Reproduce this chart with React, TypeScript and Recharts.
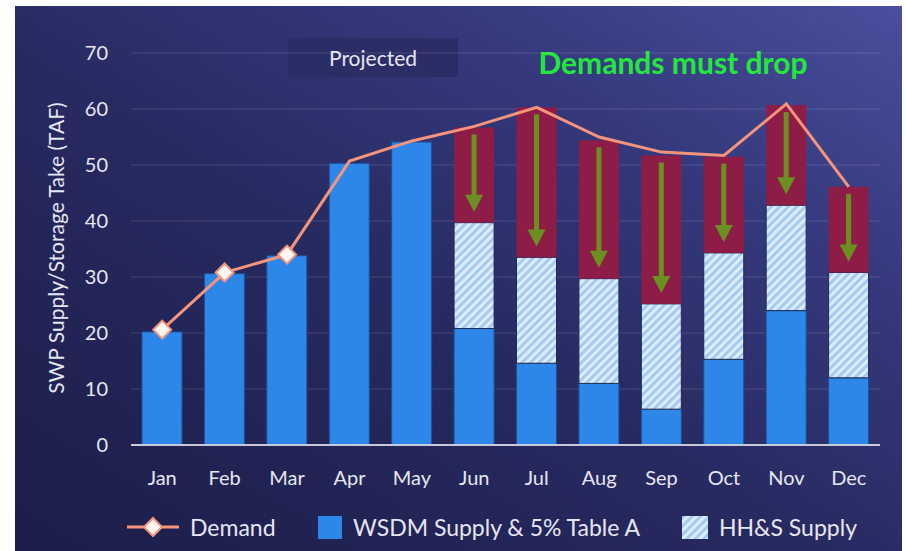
import { ComposedChart, Bar, Line, XAxis, YAxis, CartesianGrid } from 'recharts';

const months = ['Jan', 'Feb', 'Mar', 'Apr', 'May', 'Jun', 'Jul', 'Aug', 'Sep', 'Oct', 'Nov', 'Dec'];
const wsdmSupply = [20.2, 30.6, 33.8, 50.3, 54.1, 20.8, 14.6, 11.0, 6.4, 15.3, 24.0, 12.0];
const hhsSupply = [null, null, null, null, null, 18.9, 18.9, 18.7, 18.8, 19.0, 18.8, 18.8];
const shortfall = [null, null, null, null, null, 17.0, 26.8, 24.7, 26.5, 17.2, 17.9, 15.3];
const demand = [20.6, 30.8, 34.0, 50.7, 54.3, 56.9, 60.3, 55.0, 52.3, 51.7, 60.9, 46.1];
const yTicks = [0, 10, 20, 30, 40, 50, 60, 70];

const data = months.map((month, i) => ({
  month,
  wsdm: wsdmSupply[i],
  hhs: hhsSupply[i],
  gap: shortfall[i],
  demand: demand[i],
}));

const FONT = 'Lato, "Open Sans", sans-serif';
const TEXT = '#e6e6f2';
const BLUE = '#2d87e8';
const RED = '#8d1c47';
const ARROW = '#6b9020';
const LINE = '#f4947c';

// red "must drop" block with the green arrow inside
function GapShape(props: any) {
  const { x, y, width, height } = props;
  if (!height || height <= 0) return null;
  const cx = x + width / 2;
  const top = y + 7;
  const tip = y + height - 11;
  const head = 17;
  return (
    <g>
      <rect x={x} y={y} width={width} height={height} fill={RED} />
      <rect x={cx - 2.5} y={top} width={5} height={tip - head - top + 1} fill={ARROW} />
      <path d={`M${cx - 9},${tip - head} L${cx + 9},${tip - head} L${cx},${tip} Z`} fill={ARROW} />
    </g>
  );
}

function DemandDot(props: any) {
  const { cx, cy, index } = props;
  if (index > 2 || cx == null) return <g key={index} />;
  const r = 9;
  return (
    <path
      key={index}
      d={`M${cx},${cy - r} L${cx + r},${cy} L${cx},${cy + r} L${cx - r},${cy} Z`}
      fill="#fff6f2"
      stroke={LINE}
      strokeWidth={2}
    />
  );
}

function LegendItem({ icon, label }: { icon: React.ReactNode; label: string }) {
  return (
    <div style={{ display: 'flex', alignItems: 'center', gap: 11 }}>
      {icon}
      <span>{label}</span>
    </div>
  );
}

export default function App() {
  return (
    <div style={{ position: 'absolute', left: 0, top: 0, width: 906, height: 551, background: '#fff', fontFamily: FONT }}>
      <div
        style={{
          position: 'absolute',
          left: 15,
          top: 6,
          width: 887,
          height: 545,
          background: 'linear-gradient(to top right, #1c1d49 0%, #272a60 45%, #363a7e 75%, #4a4f9e 100%)',
        }}
      />
      {/* Projected box */}
      <div
        style={{
          position: 'absolute',
          left: 288,
          top: 38,
          width: 170,
          height: 39,
          background: '#2b2e66',
          color: TEXT,
          fontSize: 21,
          display: 'flex',
          alignItems: 'center',
          justifyContent: 'center',
        }}
      >
        Projected
      </div>
      <div
        style={{
          position: 'absolute',
          left: 520,
          top: 44,
          width: 306,
          textAlign: 'center',
          color: '#22e83c',
          fontSize: 30,
          fontWeight: 700,
          lineHeight: '36px',
        }}
      >
        Demands must drop
      </div>
      {/* y axis title */}
      <div
        style={{
          position: 'absolute',
          left: 55,
          top: 248,
          transform: 'translate(-50%, -50%) rotate(-90deg)',
          whiteSpace: 'nowrap',
          color: TEXT,
          fontSize: 21,
        }}
      >
        SWP Supply/Storage Take (TAF)
      </div>

      <div style={{ position: 'absolute', left: 0, top: 0 }}>
        <ComposedChart
          width={906}
          height={551}
          data={data}
          margin={{ top: 53, right: 26, bottom: 76, left: 61 }}
        >
          <defs>
            <pattern id="hatch" width="6" height="6" patternUnits="userSpaceOnUse" patternTransform="rotate(45)">
              <rect width="6" height="6" fill="#deebf9" />
              <rect width="3" height="6" fill="#a6cbf0" />
            </pattern>
          </defs>
          <CartesianGrid vertical={false} stroke="rgba(255,255,255,0.09)" strokeWidth={1.5} />
          <XAxis
            dataKey="month"
            axisLine={{ stroke: '#c9c9da', strokeWidth: 2 }}
            tickLine={false}
            tickMargin={20}
            tick={{ fill: TEXT, fontSize: 20, fontFamily: FONT }}
          />
          <YAxis
            width={70}
            domain={[0, 70]}
            ticks={yTicks}
            axisLine={false}
            tickLine={false}
            tickMargin={17}
            tick={{ fill: TEXT, fontSize: 20, fontFamily: FONT }}
          />
          <Bar dataKey="wsdm" stackId="a" barSize={40} fill={BLUE} stroke="#1d4f95" strokeWidth={1} isAnimationActive={false} />
          <Bar dataKey="hhs" stackId="a" barSize={40} fill="url(#hatch)" stroke="#1d2a55" strokeWidth={1} isAnimationActive={false} />
          <Bar dataKey="gap" stackId="a" barSize={40} shape={<GapShape />} isAnimationActive={false} />
          <Line
            type="linear"
            dataKey="demand"
            stroke={LINE}
            strokeWidth={3}
            dot={<DemandDot />}
            activeDot={false}
            isAnimationActive={false}
          />
        </ComposedChart>
      </div>

      {/* legend */}
      <div
        style={{
          position: 'absolute',
          left: 0,
          top: 512,
          width: 906,
          height: 30,
          display: 'flex',
          alignItems: 'center',
          color: TEXT,
          fontSize: 23,
        }}
      >
        <div style={{ position: 'absolute', left: 127 }}>
          <LegendItem
            label="Demand"
            icon={
              <svg width={52} height={24} style={{ marginRight: 0 }}>
                <line x1={0} y1={12} x2={52} y2={12} stroke={LINE} strokeWidth={3} />
                <path d="M26,3 L35,12 L26,21 L17,12 Z" fill="#fff6f2" stroke={LINE} strokeWidth={2} />
              </svg>
            }
          />
        </div>
        <div style={{ position: 'absolute', left: 318 }}>
          <LegendItem label="WSDM Supply & 5% Table A" icon={<div style={{ width: 24, height: 23, background: BLUE }} />} />
        </div>
        <div style={{ position: 'absolute', left: 682 }}>
          <LegendItem
            label="HH&S Supply"
            icon={
              <svg width={26} height={23}>
                <defs>
                  <pattern id="hatchLegend" width="6" height="6" patternUnits="userSpaceOnUse" patternTransform="rotate(45)">
                    <rect width="6" height="6" fill="#deebf9" />
                    <rect width="3" height="6" fill="#a6cbf0" />
                  </pattern>
                </defs>
                <rect width={26} height={23} fill="url(#hatchLegend)" />
              </svg>
            }
          />
        </div>
      </div>
    </div>
  );
}
